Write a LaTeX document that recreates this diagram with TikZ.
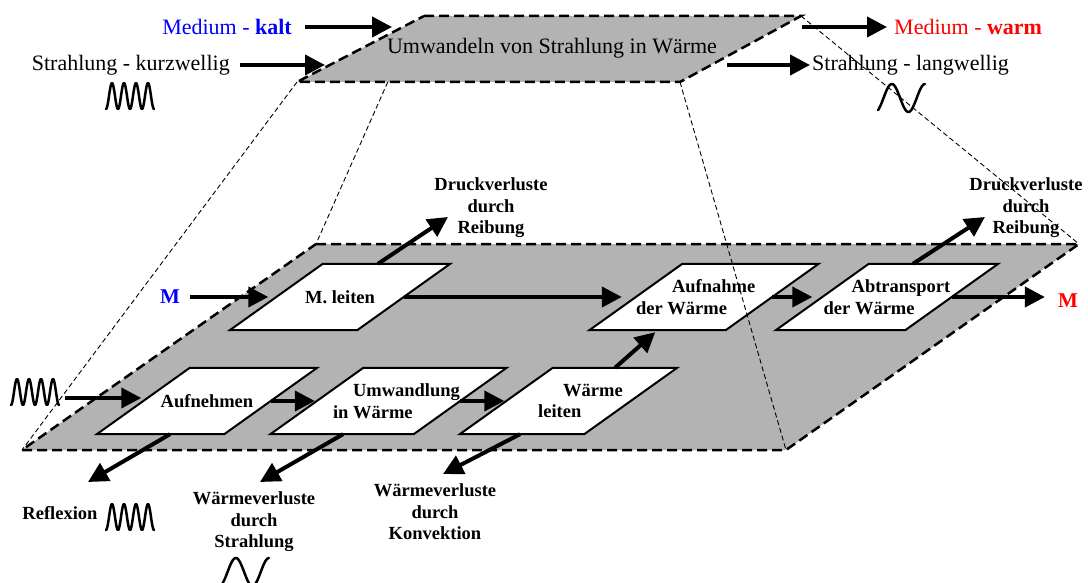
\documentclass[tikz,border=0pt]{standalone}
\usepackage{fontspec}
\setmainfont{Liberation Serif}
\usepackage{xcolor}
\usepackage{tikz}
\usetikzlibrary{arrows.meta,positioning,calc}
\definecolor{planegray}{HTML}{B3B3B3}
\definecolor{coldblue}{HTML}{0000FF}
\definecolor{warmred}{HTML}{FF0000}
\pgfdeclarelayer{back}
\pgfdeclarelayer{frames}
\pgfsetlayers{back,frames,main}

\begin{document}
\begin{tikzpicture}[x=1pt, y=-1pt,
  plane/.style={fill=planegray, draw=black, line width=2.5pt, dash pattern=on 10pt off 5pt},
  proj/.style={draw=black, line width=0.9pt, dash pattern=on 5pt off 3pt},
  box/.style={rectangle, minimum width=127pt, minimum height=66pt, inner sep=0pt, align=left, font=\bfseries\fontsize{18.5}{21.5}\selectfont},
  frame/.style={draw=black, line width=2pt, fill=white},
  lbl/.style={inner sep=0pt, align=center, font=\bfseries\fontsize{18.5}{21.5}\selectfont},
  toplbl/.style={inner sep=0pt, font=\fontsize{22}{26}\selectfont},
  mlbl/.style={inner sep=0pt, font=\bfseries\fontsize{21}{25}\selectfont},
  arr/.style={-{Triangle[length=20pt, width=20pt]}, line width=4pt},
  wave/.style={line width=2.5pt, line join=round, line cap=round},
  shortwave/.pic={\draw[wave] plot[domain=0:48, samples=97, smooth] (\x, {13*cos(30*\x)});},
  longwave/.pic={\draw[wave] plot[domain=0:47, samples=60, smooth] (\x, {-14*sin(10.85*\x-60)});}
]
\useasboundingbox (0,0) rectangle (1088,583);

% lower plane
\coordinate (p1) at (316,244);
\coordinate (p2) at (1079,244);
\coordinate (p3) at (786,450);
\coordinate (p4) at (22,450);
% upper plane
\coordinate (t1) at (424,16);
\coordinate (t2) at (801,16);
\coordinate (t3) at (680,82);
\coordinate (t4) at (297,82);
\begin{pgfonlayer}{back}
\path[plane] (p1) -- (p2) -- (p3) -- (p4) -- cycle;
\path[plane] (t1) -- (t2) -- (t3) -- (t4) -- cycle;
\end{pgfonlayer}
\node[toplbl] (umw) at (552,48) {Umwandeln von Strahlung in Wärme};

% inputs and outputs of the upper plane
\coordinate (kaltend) at (392,27);
\node[toplbl, text=coldblue, left=100pt of kaltend] (kalt) {Medium - \textbf{kalt}};
\draw[arr, shorten <=13pt] (kalt) -- (kaltend);
\coordinate (kurzend) at (325,65);
\node[toplbl, left=95pt of kurzend] (kurz) {Strahlung - kurzwellig};
\draw[arr, shorten <=10pt] (kurz) -- (kurzend);
\coordinate (warmstart) at (802,27);
\node[toplbl, text=warmred, right=92pt of warmstart] (warm) {Medium - \textbf{warm}};
\draw[arr, shorten >=7pt] (warmstart) -- (warm);
\coordinate (langstart) at (727,65);
\node[toplbl, right=85pt of langstart] (lang) {Strahlung - langwellig};
\draw[arr, shorten >=2pt] (langstart) -- (lang);
\pic at (106,96) {shortwave};
\pic at (878,98) {longwave};

% functions (slanted frames drawn behind the text)
\node[box] (mleiten) at (340,297) {M. leiten};
\node[box, minimum width=129pt] (aufw) at (704,297) {\hspace*{36pt}Aufnahme\\der Wärme\hspace*{45pt}};
\node[box, minimum width=129pt] (abtr) at (887,297) {\hspace*{28pt}Abtransport\\der Wärme};
\node[box] (aufn) at (207,401) {Aufnehmen};
\node[box, minimum width=142pt] (umwd) at (388.5,401) {\hspace*{36pt}Umwandlung\\\hspace*{16pt}in Wärme};
\node[box, minimum width=124pt] (wleit) at (568.5,401) {\hspace*{49pt}Wärme\\\hspace*{24pt}leiten};
\begin{pgfonlayer}{frames}
\foreach \n in {mleiten,aufw,abtr,aufn,umwd,wleit}
  \path[frame] ($(\n.north west)+(46.5,0)$) -- ($(\n.north east)+(46.5,0)$)
    -- ($(\n.south east)+(-46.5,0)$) -- ($(\n.south west)+(-46.5,0)$) -- cycle;
\end{pgfonlayer}

% flows
\node[mlbl, text=coldblue] (min) at (170,297) {M};
\node[mlbl, text=warmred] (mout) at (1068,301) {M};
\draw[arr, shorten <=10pt, shorten >=8pt] (min) -- (mleiten.west);
\draw[arr, shorten >=14pt] (mleiten.east) -- (aufw.west);
\draw[arr, shorten >=10pt] (aufw.east) -- (abtr.west);
\draw[arr, shorten >=13pt] (abtr.east) -- (abtr.east -| mout.west);
\coordinate (wvin) at (65,398);
\pic at (11,392) {shortwave};
\draw[arr, shorten >=2pt] (wvin) -- (wvin -| aufn.west);
\draw[arr, shorten >=2pt] (aufn.east) -- (umwd.west);
\draw[arr, shorten >=2pt] (umwd.east) -- (wleit.west);
\draw[arr, shorten >=3pt] ($(wleit.north)+(46.5,0)$) -- ($(aufw.south)+(-46.5,0)$);

% losses
\node[lbl] (dv1) at (491,208) {Druckverluste\\durch\\Reibung};
\node[lbl] (dv2) at (1026,208) {Druckverluste\\durch\\Reibung};
\coordinate (dv1tip) at (448,217);
\coordinate (dv2tip) at (985,217);
\draw[arr] ($(mleiten.north)+(38,0)$) -- (dv1tip);
\draw[arr] ($(abtr.north)+(26,0)$) -- (dv2tip);

\node[lbl] (refl) at (60,513) {Reflexion};
\pic at (106,517) {shortwave};
\node[lbl] (wvs) at (254,522) {Wärmeverluste\\durch\\Strahlung};
\pic at (222,572) {longwave};
\node[lbl] (wvk) at (435,512) {Wärmeverluste\\durch\\Konvektion};
\coordinate (refltip) at (88,482);
\coordinate (wvstip) at (260,482);
\coordinate (wvktip) at (443,474);
\draw[arr] ($(aufn.south)+(-37,0)$) -- (refltip);
\draw[arr] ($(umwd.south)+(-45.5,0)$) -- (wvstip);
\draw[arr] ($(wleit.south)+(-48.5,0)$) -- (wvktip);

% projection lines
\draw[proj] (t4) -- (p4);
\draw[proj] ($(t4)!.237!(t3)$) -- (p1);
\draw[proj] (t3) -- (p3);
\draw[proj] (t2) -- (p2);
\end{tikzpicture}
\end{document}
